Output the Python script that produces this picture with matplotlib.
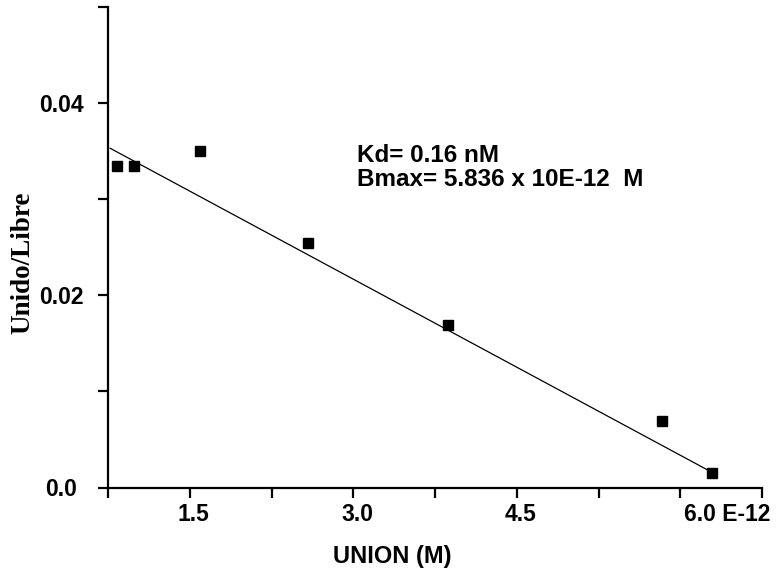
import numpy as np
import matplotlib
matplotlib.use("Agg")
from matplotlib import pyplot as plt
from matplotlib.transforms import ScaledTranslation

# Scatchard data (x in units of 1E-12 M)
union = [0.833, 0.989, 1.594, 2.585, 3.869, 5.83, 6.29]
unido_libre = [0.0335, 0.0335, 0.0350, 0.0254, 0.0169, 0.0069, 0.0015]

# fitted line end points
fit_x = [0.77, 6.255]
fit_y = [0.0353, 0.0018]

x_ticks = [0.75, 1.5, 2.25, 3.0, 3.75, 4.5, 5.25, 6.0, 6.75]
x_labels = ["", "1.5", "", "3.0", "", "4.5", "", "6.0 E-12", ""]
y_ticks = [0.0, 0.01, 0.02, 0.03, 0.04, 0.05]
y_labels = ["0.0", "", "0.02", "", "0.04", ""]

annot = "Kd= 0.16 nM\nBmax= 5.836 x 10E-12  M"

plt.rcParams['font.family'] = ['Liberation Sans', 'DejaVu Sans']
plt.rcParams['font.weight'] = 'bold'

fig = plt.figure(figsize=(7.8, 5.76), dpi=100)
ax = fig.add_axes([108 / 780, 88.5 / 576, 654 / 780, 480.5 / 576])

ax.plot(fit_x, fit_y, color="black", linewidth=0.9)
ax.plot(union, unido_libre, linestyle="none", marker="s", markersize=6.5,
        color="black")

ax.set_xlim(0.75, 6.75)
ax.set_ylim(0.0, 0.05)
ax.spines["top"].set_visible(False)
ax.spines["right"].set_visible(False)
for s in ["left", "bottom"]:
    ax.spines[s].set_linewidth(1.6)

ax.set_xticks(x_ticks)
ax.set_xticklabels(x_labels, fontsize=16.5, fontweight="bold")
ax.set_yticks(y_ticks)
ax.set_yticklabels(y_labels, fontsize=16.5, fontweight="bold")
ax.tick_params(axis="both", direction="out", length=7.5, width=1.6)
ax.tick_params(axis="x", pad=4)
ax.tick_params(axis="y", pad=26)

shift = ScaledTranslation(4 / 100, 0, fig.dpi_scale_trans)
for lab in ax.get_xticklabels():
    lab.set_transform(lab.get_transform() + shift)
    if "E-12" in lab.get_text():
        lab.set_horizontalalignment("left")
for lab in ax.get_yticklabels():
    lab.set_horizontalalignment("center")

ax.text(3.034, 0.0357, annot, fontsize=17.5, fontweight="bold",
        va="top", ha="left", linespacing=1.05)

fig.text(392 / 780, 1 - 557 / 576, "UNION (M)", fontsize=17, fontweight="bold",
         ha="center", va="center")
fig.text(23 / 780, 1 - 263 / 576, "Unido/Libre", fontsize=19.5,
         fontweight="bold", family=["Liberation Serif", "DejaVu Serif"],
         rotation=90, ha="center", va="center")

fig.savefig("out.png", dpi=100)
